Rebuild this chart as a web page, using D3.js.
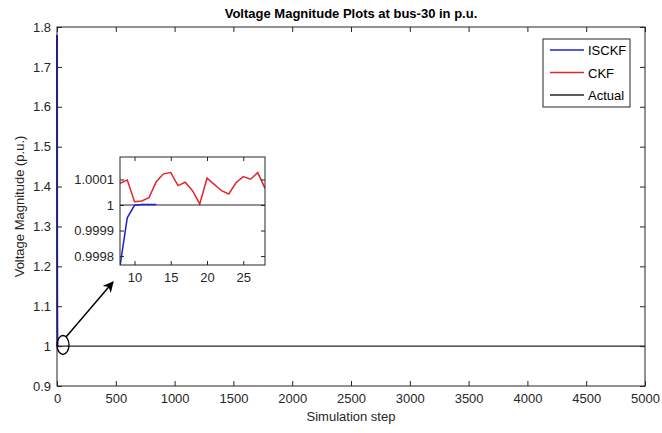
<!DOCTYPE html>
<html>
<head>
<meta charset="utf-8">
<script src="https://cdn.jsdelivr.net/npm/d3@7"></script>
<style>
  body { margin: 0; background: #fff; }
  svg { font-family: "Liberation Sans", Arial, sans-serif; }
  .tick text { fill: #262626; font-size: 13px; }
  .axisLine { stroke: #262626; stroke-width: 1; fill: none; }
</style>
</head>
<body>
<div id="chart"></div>
<script>
const WIDTH = 662;
const HEIGHT = 433;

// main axes values
const X_TICKS = [0, 500, 1000, 1500, 2000, 2500, 3000, 3500, 4000, 4500, 5000];
const Y_TICKS = [0.9, 1, 1.1, 1.2, 1.3, 1.4, 1.5, 1.6, 1.7, 1.8];

// ISCKF start-up transient seen on the main plot (afterwards it sits under the Actual line)
const iscKfSteps = [0, 1, 2, 3, 4, 5, 6, 8, 10];
const iscKfValues = [1.78, 1.25, 1.09, 1.03, 1.01, 1.003, 1.001, 0.99976, 1.0];

// zoomed window (steps 8..28)
const zoomSteps = [8, 9, 10, 11, 12, 13, 14, 15, 16, 17, 18, 19, 20, 21, 22, 23, 24, 25, 26, 27, 28];
const ckfValues = [1.000085, 1.000098, 1.000013, 1.000016, 1.000029, 1.000091, 1.000122, 1.000127,
                   1.000076, 1.000089, 1.000056, 1.000004, 1.000105, 1.000081, 1.000056, 1.000043,
                   1.000087, 1.000111, 1.000101, 1.000127, 1.000065];
const iscKfZoomSteps = [8, 9, 10, 11, 12, 13];
const iscKfZoomValues = [0.99976, 0.99995, 0.999999, 1.000002, 1.000002, 1.000002];

const ZOOM_X_TICKS = [10, 15, 20, 25];
const ZOOM_Y_TICKS = [0.9998, 0.9999, 1, 1.0001];

const actualValue = 1.0;

const legendItems = [
    { name: "ISCKF", color: "#1f1fd6" },
    { name: "CKF", color: "#e3262b" },
    { name: "Actual", color: "#262626" }
];

const svg = d3.select("#chart").append("svg")
    .attr("width", WIDTH)
    .attr("height", HEIGHT);

const plot = { left: 57, right: 645, top: 27, bottom: 386 };

let x = d3.scaleLinear().domain([0, 5000]).range([plot.left, plot.right]);
let y = d3.scaleLinear().domain([0.9, 1.8]).range([plot.bottom, plot.top]);

// MATLAB-style box with inward ticks on all four sides
const drawBoxAxes = (xs, ys, xTicks, yTicks, fmtX, fmtY, tickLen) => {
    const [x0, x1] = xs.range();
    const [y0, y1] = ys.range();
    svg.append("g").attr("transform", `translate(0,${y0})`)
        .call(d3.axisBottom(xs).tickValues(xTicks).tickSize(-tickLen).tickPadding(8).tickFormat(fmtX))
        .call(g => g.select(".domain").remove());
    svg.append("g").attr("transform", `translate(0,${y1})`)
        .call(d3.axisTop(xs).tickValues(xTicks).tickSize(-tickLen).tickFormat(""))
        .call(g => g.select(".domain").remove());
    svg.append("g").attr("transform", `translate(${x0},0)`)
        .call(d3.axisLeft(ys).tickValues(yTicks).tickSize(-tickLen).tickPadding(6).tickFormat(fmtY))
        .call(g => g.select(".domain").remove());
    svg.append("g").attr("transform", `translate(${x1},0)`)
        .call(d3.axisRight(ys).tickValues(yTicks).tickSize(-tickLen).tickFormat(""))
        .call(g => g.select(".domain").remove());
    svg.selectAll(".tick line").attr("stroke", "#262626");
    svg.append("rect")
        .attr("class", "axisLine")
        .attr("x", x0).attr("y", y1)
        .attr("width", x1 - x0).attr("height", y0 - y1);
};

// Main lines
const mainLine = d3.line().x(d => x(d[0])).y(d => y(d[1]));

svg.append("path")
    .datum(iscKfSteps.map((s, i) => [s, iscKfValues[i]]))
    .attr("d", mainLine).attr("fill", "none")
    .attr("stroke", legendItems[0].color).attr("stroke-width", 2);
svg.append("path")
    .datum([[0, actualValue], [5000, actualValue]])
    .attr("d", mainLine).attr("fill", "none")
    .attr("stroke", legendItems[2].color).attr("stroke-width", 1.2);

drawBoxAxes(x, y, X_TICKS, Y_TICKS, d3.format("d"), d => d3.format("")(+d.toFixed(1)), 5);

// Title and axis labels
svg.append("text")
    .attr("x", (plot.left + plot.right) / 2).attr("y", 18)
    .attr("text-anchor", "middle")
    .attr("font-size", 13).attr("font-weight", "bold").attr("fill", "#000")
    .text("Voltage Magnitude Plots at bus-30 in p.u.");
svg.append("text")
    .attr("x", (plot.left + plot.right) / 2).attr("y", 421)
    .attr("text-anchor", "middle")
    .attr("font-size", 13).attr("fill", "#262626")
    .text("Simulation step");
svg.append("text")
    .attr("transform", `translate(24,${(plot.top + plot.bottom) / 2}) rotate(-90)`)
    .attr("text-anchor", "middle")
    .attr("font-size", 13).attr("fill", "#262626")
    .text("Voltage Magnitude (p.u.)");

// Legend
const legend = svg.append("g").attr("transform", "translate(543,39)");
legend.append("rect")
    .attr("width", 87).attr("height", 68)
    .attr("fill", "#fff").attr("stroke", "#262626").attr("stroke-width", 1);
legendItems.forEach((item, i) => {
    let ly = 11 + i * 22.5;
    legend.append("line")
        .attr("x1", 7).attr("x2", 41).attr("y1", ly).attr("y2", ly)
        .attr("stroke", item.color).attr("stroke-width", 1.5);
    legend.append("text")
        .attr("x", 45).attr("y", ly + 5)
        .attr("font-size", 13).attr("fill", "#000")
        .text(item.name);
});

// Ellipse marking the zoomed region and the arrow
svg.append("ellipse")
    .attr("cx", 63).attr("cy", 345).attr("rx", 6).attr("ry", 9.5)
    .attr("fill", "none").attr("stroke", "#000").attr("stroke-width", 1.3);
svg.append("defs").append("marker")
    .attr("id", "arrowHead")
    .attr("viewBox", "0 0 10 10")
    .attr("refX", 9).attr("refY", 5)
    .attr("markerWidth", 11).attr("markerHeight", 11)
    .attr("markerUnits", "userSpaceOnUse")
    .attr("orient", "auto")
    .append("path").attr("d", "M0,0 L10,5 L0,10 L3,5 Z").attr("fill", "#000");
svg.append("line")
    .attr("x1", 66).attr("y1", 337).attr("x2", 113).attr("y2", 282)
    .attr("stroke", "#000").attr("stroke-width", 1.5)
    .attr("marker-end", "url(#arrowHead)");

// Inset
const inset = { left: 120, right: 265, top: 157, bottom: 265 };
let xz = d3.scaleLinear().domain([8, 28]).range([inset.left, inset.right]);
let yz = d3.scaleLinear().domain([0.999765, 1.000188]).range([inset.bottom, inset.top]);

svg.append("rect")
    .attr("x", inset.left).attr("y", inset.top)
    .attr("width", inset.right - inset.left).attr("height", inset.bottom - inset.top)
    .attr("fill", "#fff");

svg.append("defs").append("clipPath").attr("id", "insetClip")
    .append("rect")
    .attr("x", inset.left).attr("y", inset.top)
    .attr("width", inset.right - inset.left).attr("height", inset.bottom - inset.top);

const zoomLine = d3.line().x(d => xz(d[0])).y(d => yz(d[1]));
const insetG = svg.append("g").attr("clip-path", "url(#insetClip)");
insetG.append("path")
    .datum(zoomSteps.map((s, i) => [s, ckfValues[i]]))
    .attr("d", zoomLine).attr("fill", "none")
    .attr("stroke", legendItems[1].color).attr("stroke-width", 1.5);
insetG.append("path")
    .datum([[8, actualValue], [28, actualValue]])
    .attr("d", zoomLine).attr("fill", "none")
    .attr("stroke", legendItems[2].color).attr("stroke-width", 1.2);
insetG.append("path")
    .datum(iscKfZoomSteps.map((s, i) => [s, iscKfZoomValues[i]]))
    .attr("d", zoomLine).attr("fill", "none")
    .attr("stroke", legendItems[0].color).attr("stroke-width", 1.5);

drawBoxAxes(xz, yz, ZOOM_X_TICKS, ZOOM_Y_TICKS, d3.format("d"), d => d3.format("")(+d.toFixed(4)), 4);
svg.selectAll(".tick text").attr("fill", "#262626");
</script>
</body>
</html>
